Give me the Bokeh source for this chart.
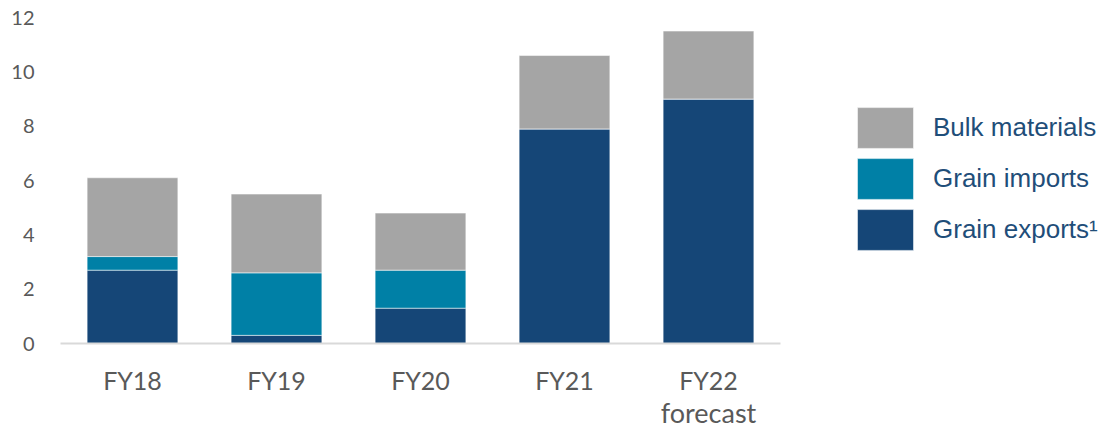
from bokeh.plotting import figure
from bokeh.models import (Legend, LegendItem, Range1d, FactorRange, CategoricalAxis,
                          CustomJSTickFormatter)
from bokeh.embed import file_html
from bokeh.resources import INLINE

categories = ["FY18", "FY19", "FY20", "FY21", "FY22"]
second_line_labels = {"FY22": "forecast"}
grain_exports = [2.7, 0.3, 1.3, 7.9, 9.0]
grain_imports = [0.5, 2.3, 1.4, 0.0, 0.0]
bulk_materials = [2.9, 2.9, 2.1, 2.7, 2.5]
y_ticks = [0, 2, 4, 6, 8, 10, 12]

series = ["grain_exports", "grain_imports", "bulk_materials"]
colors = ["#154677", "#0080A6", "#A5A5A5"]
legend_names = ["Grain exports\u00b9", "Grain imports", "Bulk materials"]

data = dict(cat=categories, grain_exports=grain_exports,
            grain_imports=grain_imports, bulk_materials=bulk_materials)

p = figure(x_range=FactorRange(*categories, range_padding=0),
           y_range=Range1d(0, 12),
           width=1098, height=423, frame_width=720, frame_height=326,
           min_border_left=60, min_border_top=17, min_border_right=318,
           min_border_bottom=80,
           output_backend="svg", toolbar_location=None)

renderers = p.vbar_stack(series, x="cat", width=0.63, color=colors,
                         line_color="white", line_width=1, line_alpha=0.5,
                         source=data)

items = [LegendItem(label=legend_names[i], renderers=[renderers[i]])
         for i in [2, 1, 0]]
legend = Legend(items=items, location=(70, 88), padding=0, margin=0,
                glyph_width=70, glyph_height=51, label_height=51,
                spacing=0, label_standoff=13,
                label_text_font="Liberation Sans", label_text_font_size="26px",
                label_text_color="#1F4E79", border_line_color=None,
                background_fill_alpha=0)
p.add_layout(legend, "right")

p.outline_line_color = None
p.xgrid.grid_line_color = None
p.ygrid.grid_line_color = None

p.yaxis.ticker = y_ticks
p.yaxis.axis_line_color = None
p.yaxis.major_tick_line_color = None
p.yaxis.minor_tick_line_color = None
p.yaxis.major_label_standoff = 20
p.yaxis.major_label_text_font = "Lato"
p.yaxis.major_label_text_font_size = "20px"
p.yaxis.major_label_text_color = "#595959"

p.xaxis.axis_line_color = "#D9D9D9"
p.xaxis.axis_line_width = 2
p.xaxis.major_tick_line_color = None
p.xaxis.minor_tick_line_color = None
p.xaxis.major_label_standoff = 15
p.xaxis.major_label_text_font = "Lato"
p.xaxis.major_label_text_font_size = "25px"
p.xaxis.major_label_text_color = "#595959"

ax2 = CategoricalAxis(
    formatter=CustomJSTickFormatter(args=dict(labels=second_line_labels),
                                    code="return labels[tick] || ''"),
    axis_line_color=None, major_tick_line_color=None,
    minor_tick_line_color=None, major_label_standoff=-8,
    major_label_text_font="Lato",
    major_label_text_font_size="27px",
    major_label_text_color="#595959")
p.add_layout(ax2, "below")

open("out.html", "w").write(file_html(p, INLINE))
